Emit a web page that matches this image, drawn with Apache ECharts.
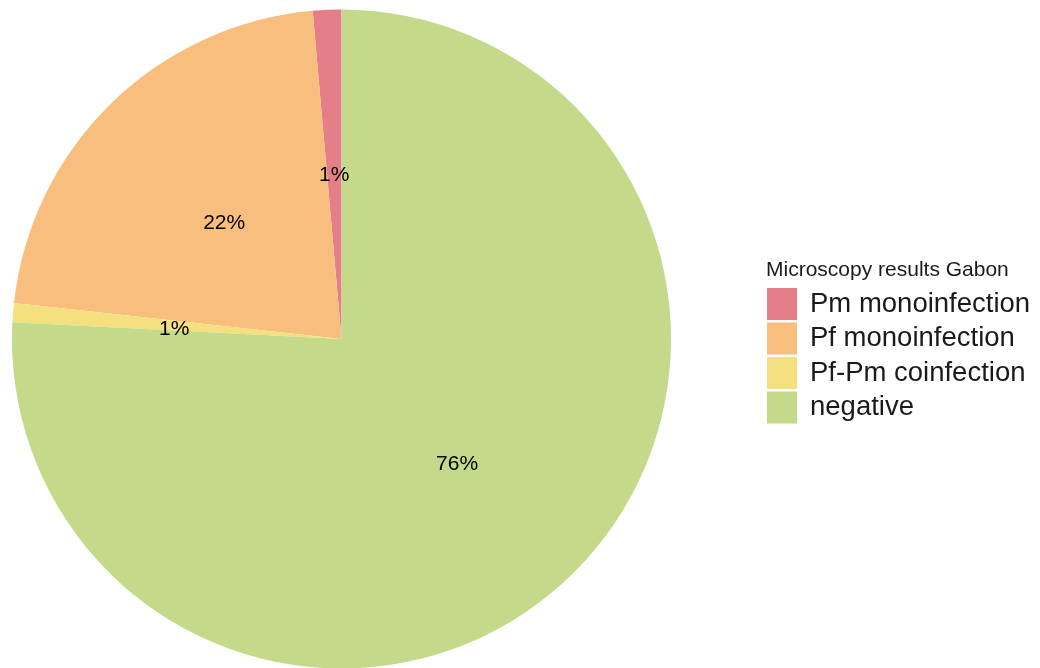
<!DOCTYPE html>
<html>
<head>
<meta charset="utf-8">
<style>
  html, body { margin: 0; padding: 0; background: #ffffff; }
  #chart { width: 1040px; height: 668px; }
</style>
<script src="https://cdn.jsdelivr.net/npm/echarts@6/dist/echarts.min.js"></script>
</head>
<body>
<div id="chart"></div>
<script>
// Microscopy results, Gabon: number of samples per result
const categories = ['Pm monoinfection', 'Pf monoinfection', 'Pf-Pm coinfection', 'negative'];
const counts = [3, 47, 2, 163];
const colors = ['#E57F87', '#F8BE7D', '#F4E07E', '#C4DA8A'];
const legendTitle = 'Microscopy results Gabon';

const FONT = '"Liberation Sans", Arial, Helvetica, sans-serif';

const chart = echarts.init(document.getElementById('chart'), null, { renderer: 'canvas' });

chart.setOption({
  animation: false,
  backgroundColor: '#ffffff',
  color: colors,
  textStyle: { fontFamily: FONT },
  title: {
    text: legendTitle,
    left: 761,
    top: 255,
    textStyle: { fontFamily: FONT, fontSize: 21, fontWeight: 'normal', color: '#1a1a1a' }
  },
  legend: {
    orient: 'vertical',
    left: 767,
    top: 288,
    icon: 'rect',
    itemWidth: 30,
    itemHeight: 32,
    itemGap: 2.5,
    padding: 0,
    selectedMode: false,
    data: categories,
    textStyle: { fontFamily: FONT, fontSize: 27.5, color: '#1a1a1a', padding: [0, 0, 0, 8] }
  },
  series: [{
    type: 'pie',
    center: [341.5, 339],
    radius: [0, 329.5],
    startAngle: 90,
    clockwise: false,
    silent: true,
    itemStyle: { borderWidth: 0 },
    label: {
      show: true,
      position: 'inside',
      fontFamily: FONT,
      fontSize: 21,
      color: '#000000',
      offset: [0, 4],
      formatter: p => Math.round(p.percent) + '%'
    },
    labelLine: { show: false },
    emphasis: { disabled: true },
    data: categories.map((name, i) => ({ name: name, value: counts[i] }))
  }]
});
</script>
</body>
</html>
